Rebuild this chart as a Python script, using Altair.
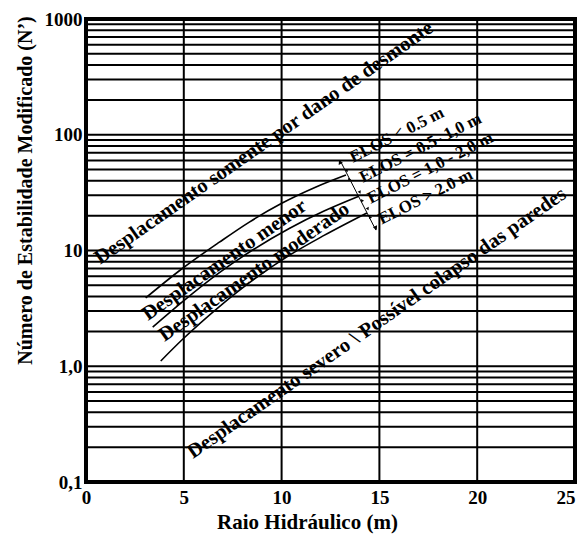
import altair as alt
import pandas as pd

# ---------------- data ----------------
x_ticks = [0, 5, 10, 15, 20, 25]
y_ticks = [0.1, 1, 10, 100, 1000]
y_tick_labels = ["0,1", "1,0", "10", "100", "1000"]

y_grid = [0.1, 0.2, 0.3, 0.4, 0.5, 0.6, 0.7, 0.8, 0.9,
          1, 2, 3, 4, 5, 6, 7, 8, 9,
          10, 20, 30, 40, 50, 60, 70, 80, 90,
          100, 200, 300, 400, 500, 600, 700, 800, 900, 1000]
x_grid = [5, 10, 15, 20]

top_x = [3.05, 4.89, 6.82, 8.35, 10.03, 11.76, 13.29]
top_y = [3.89, 6.92, 11.8, 17.6, 25.7, 35.4, 44.9]
mid_x = [3.41, 4.94, 6.82, 8.6, 10.39, 12.17, 13.95]
mid_y = [2.18, 3.62, 6.44, 10.3, 15.5, 21.9, 29.4]
bot_x = [3.82, 4.94, 6.82, 8.6, 10.39, 12.17, 14.36]
bot_y = [1.11, 1.71, 3.28, 5.66, 9.08, 13.5, 21.1]

elos_x = [12.98, 14.82]
elos_y = [60.5, 15.0]

zone_labels = ["Desplacamento somente por dano de desmonte",
               "Desplacamento menor",
               "Desplacamento moderado",
               "Desplacamento severo \\ Possível colapso das paredes"]
zone_x = [9.1, 7.08, 8.6, 14.87]
zone_y = [85.0, 8.28, 6.52, 2.36]

elos_labels = ["ELOS < 0.5 m", "ELOS = 0.5- 1,0 m", "ELOS = 1,0 - 2,0 m", "ELOS > 2.0 m"]
elos_lx = [15.89, 17.1, 17.6, 17.36]
elos_ly = [99.5, 76.8, 51.6, 29.0]

# ---------------- tables ----------------
curves = pd.concat([
    pd.DataFrame({"x": top_x, "y": top_y, "c": "top"}),
    pd.DataFrame({"x": mid_x, "y": mid_y, "c": "mid"}),
    pd.DataFrame({"x": bot_x, "y": bot_y, "c": "bot"}),
])
curve_ends = pd.DataFrame({"x": [top_x[-1], mid_x[-1], bot_x[-1]],
                           "y": [top_y[-1], mid_y[-1], bot_y[-1]]})
hgrid = pd.DataFrame({"y": y_grid})
vgrid = pd.DataFrame({"x": x_grid})
elos_line = pd.DataFrame({"x": elos_x, "y": elos_y})
elos_top = pd.DataFrame({"x": elos_x[:1], "y": elos_y[:1]})
elos_bot = pd.DataFrame({"x": elos_x[1:], "y": elos_y[1:]})
zones = pd.DataFrame({"t": zone_labels, "x": zone_x, "y": zone_y})
elos = pd.DataFrame({"t": elos_labels, "x": elos_lx, "y": elos_ly})

FONT = "Liberation Serif"

label_expr = " : ".join(
    f"abs(datum.value - {v}) < 1e-6 ? '{l}'" for v, l in zip(y_ticks, y_tick_labels)
) + " : ''"

xscale = alt.Scale(domain=[0, 25], nice=False, zero=False)
yscale = alt.Scale(type="log", domain=[0.1, 1000], nice=False)

xaxis = alt.Axis(values=x_ticks, grid=False, ticks=False, domain=False,
                 labelPadding=6, titlePadding=4, title="Raio Hidráulico (m)",
                 titleX=221, titleFontSize=21, labelFlush=False,
                 labelAlign={"condition": {"test": "datum.value >= 25", "value": "right"},
                             "value": "center"})
yaxis = alt.Axis(values=y_ticks, grid=False, ticks=False, domain=False,
                 labelPadding=4, titlePadding=9, labelExpr=label_expr,
                 title="Número de Estabilidade Modificado (N’)", titleY=171,
                 labelFlush=False)

X = alt.X("x:Q", scale=xscale, axis=xaxis)
Y = alt.Y("y:Q", scale=yscale, axis=yaxis)

hg = alt.Chart(hgrid).mark_rule(color="black", strokeWidth=2).encode(
    y=alt.Y("y:Q", scale=yscale, axis=yaxis))
vg = alt.Chart(vgrid).mark_rule(color="black", strokeWidth=2).encode(
    x=alt.X("x:Q", scale=xscale, axis=xaxis))

lines = alt.Chart(curves).mark_line(color="black", strokeWidth=1.6,
                                    interpolate="monotone").encode(
    x=X, y=Y, detail="c:N")

ind = alt.Chart(elos_line).mark_line(color="black", strokeWidth=1).encode(x=X, y=Y)
arr_top = alt.Chart(elos_top).mark_point(shape="triangle-up", filled=True, color="black",
                                         size=22, angle=333, opacity=1, yOffset=2).encode(x=X, y=Y)
arr_bot = alt.Chart(elos_bot).mark_point(shape="triangle-down", filled=True, color="black",
                                         size=22, angle=333, opacity=1, yOffset=-2).encode(x=X, y=Y)
tick_dn = alt.Chart(curve_ends).mark_point(shape="triangle-down", filled=True, color="black",
                                           size=12, angle=333, opacity=1,
                                           xOffset=1, yOffset=-4).encode(x=X, y=Y)
tick_up = alt.Chart(curve_ends).mark_point(shape="triangle-up", filled=True, color="black",
                                           size=12, angle=333, opacity=1,
                                           xOffset=3, yOffset=4).encode(x=X, y=Y)

zone_text = alt.Chart(zones).mark_text(font=FONT, fontWeight="bold", fontSize=20.5,
                                       angle=325, align="center", baseline="middle",
                                       color="black").encode(x=X, y=Y, text="t:N")
elos_text = alt.Chart(elos).mark_text(font=FONT, fontWeight="bold", fontSize=17,
                                      angle=333, align="center", baseline="middle",
                                      color="black").encode(x=X, y=Y, text="t:N")

chart = alt.layer(hg, vg, lines, ind, arr_top, arr_bot, tick_dn, tick_up,
                  zone_text, elos_text).properties(
    width=489, height=463,
    autosize=alt.AutoSizeParams(type="none"),
    padding={"left": 78, "top": 11, "right": 2, "bottom": 52},
).configure_view(stroke="black", strokeWidth=4).configure_axis(
    labelFont=FONT, labelFontWeight="bold", labelFontSize=19, labelColor="black",
    titleFont=FONT, titleFontWeight="bold", titleFontSize=20, titleColor="black",
)

chart.save("out.html", embed_options={"renderer": "svg", "actions": False})
